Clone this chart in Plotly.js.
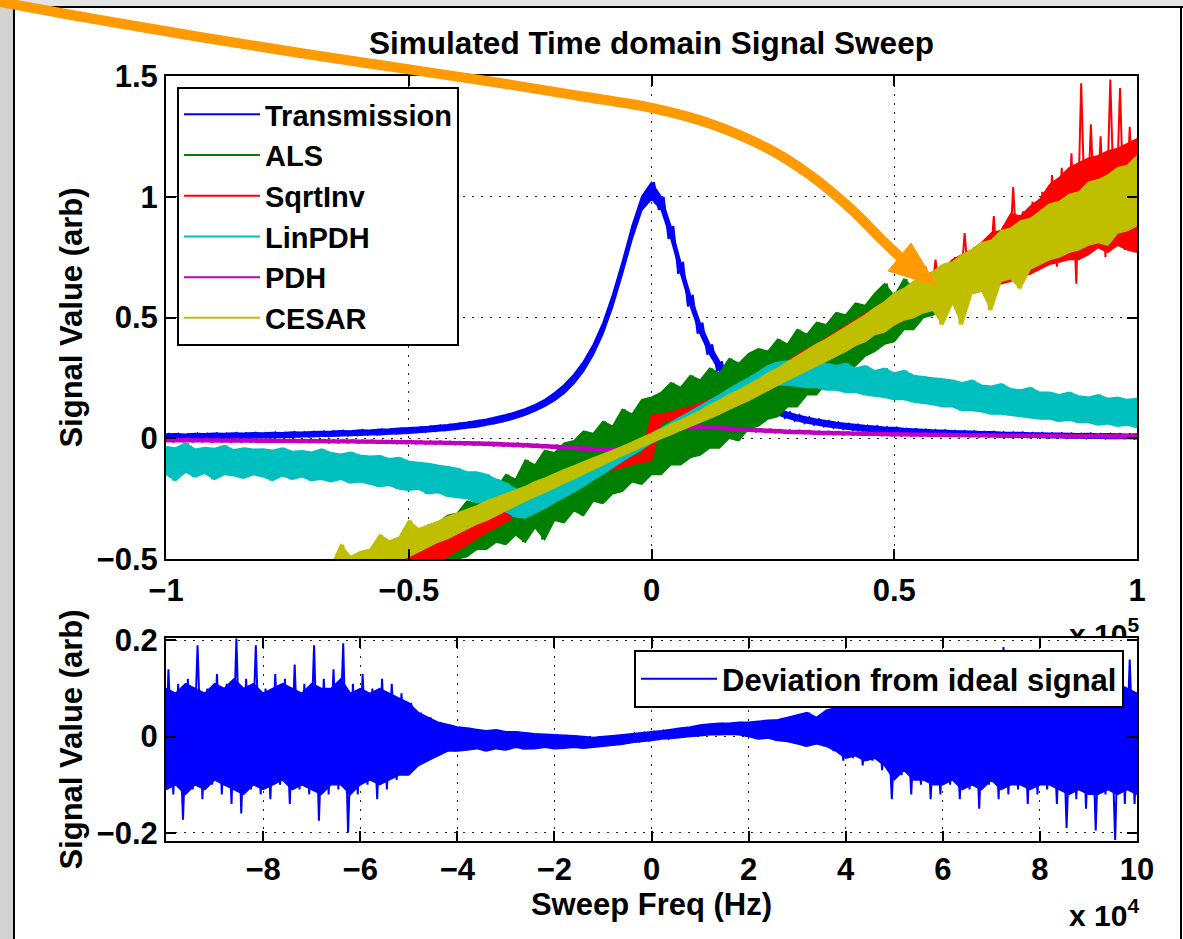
<!DOCTYPE html>
<html>
<head>
<meta charset="utf-8">
<script src="https://cdn.plot.ly/plotly-3.0.1.min.js"></script>
<style>
html,body{margin:0;padding:0;background:#fff;}
#chart{width:1183px;height:939px;}
</style>
</head>
<body>
<div id="chart"></div>
<script>
// Sweep frequency grid (kHz). Each series is given per 2 kHz bin as the dense band top / bottom
// (Hi / Lo) and, where isolated spikes stick out of the band, the per-bin extremes (PeakHi / PeakLo).
const sweepKHz = [-100,-98,-96,-94,-92,-90,-88,-86,-84,-82,
  -80,-78,-76,-74,-72,-70,-68,-66,-64,-62,
  -60,-58,-56,-54,-52,-50,-48,-46,-44,-42,
  -40,-38,-36,-34,-32,-30,-28,-26,-24,-22,
  -20,-18,-16,-14,-12,-10,-8,-6,-4,-2,
  0,
  2,4,6,8,10,12,14,16,18,20,
  22,24,26,28,30,32,34,36,38,40,
  42,44,46,48,50,52,54,56,58,60,
  62,64,66,68,70,72,74,76,78,80,
  82,84,86,88,90,92,94,96,98,100];

const seriesNames = ['Transmission','ALS','SqrtInv','LinPDH','PDH','CESAR'];
const seriesColors = ['#0000FF','#008000','#FF0000','#00BFBF','#BF00BF','#BFBF00'];
const deviationName = 'Deviation from ideal signal';

const transmissionHi = [0.018,0.019,0.017,0.020,0.019,0.021,0.020,0.022,0.021,0.023,
  0.022,0.024,0.023,0.026,0.025,0.027,0.028,0.029,0.031,0.030,
  0.034,0.033,0.037,0.038,0.041,0.043,0.046,0.049,0.053,0.056,
  0.061,0.066,0.073,0.079,0.088,0.097,0.109,0.122,0.139,0.160,
  0.188,0.221,0.264,0.318,0.388,0.478,0.595,0.732,0.880,1.002,
  1.060,
  1.000,0.878,0.730,0.594,0.479,0.389,0.318,0.266,0.222,0.189,
  0.161,0.139,0.121,0.108,0.096,0.087,0.079,0.072,0.066,0.061,
  0.057,0.053,0.050,0.046,0.044,0.040,0.038,0.036,0.034,0.033,
  0.031,0.030,0.029,0.027,0.027,0.025,0.024,0.024,0.022,0.022,
  0.021,0.021,0.020,0.019,0.020,0.018,0.019,0.018,0.017,0.018];
const transmissionLo = [-0.002,0.000,-0.001,-0.001,0.001,0.000,0.001,0.000,0.002,0.001,
  0.003,0.002,0.004,0.004,0.006,0.006,0.008,0.008,0.010,0.011,
  0.012,0.014,0.015,0.018,0.019,0.021,0.024,0.027,0.030,0.033,
  0.037,0.042,0.047,0.055,0.062,0.071,0.083,0.096,0.113,0.132,
  0.156,0.186,0.226,0.277,0.345,0.432,0.544,0.680,0.824,0.944,
  0.990,
  0.946,0.826,0.681,0.546,0.433,0.346,0.278,0.227,0.186,0.155,
  0.132,0.113,0.097,0.084,0.072,0.063,0.056,0.049,0.043,0.038,
  0.034,0.030,0.027,0.024,0.021,0.020,0.018,0.016,0.014,0.013,
  0.011,0.010,0.009,0.008,0.007,0.006,0.005,0.004,0.004,0.003,
  0.002,0.002,0.001,0.001,0.000,0.001,-0.001,0.000,-0.001,-0.002];

const alsHi = [-0.93,-0.91,-0.89,-0.87,-0.85,-0.83,-0.81,-0.79,-0.77,-0.75,
  -0.73,-0.71,-0.69,-0.67,-0.65,-0.63,-0.61,-0.58,-0.56,-0.54,
  -0.53,-0.49,-0.48,-0.44,-0.44,-0.40,-0.40,-0.36,-0.35,-0.32,
  -0.31,-0.26,-0.27,-0.20,-0.21,-0.15,-0.17,-0.09,-0.11,-0.05,
  -0.06,-0.02,-0.01,0.03,0.02,0.07,0.05,0.12,0.10,0.16,
  0.17,
  0.19,0.23,0.21,0.26,0.24,0.29,0.27,0.33,0.31,0.35,
  0.37,0.36,0.41,0.39,0.45,0.43,0.48,0.47,0.52,0.51,
  0.56,0.55,0.60,0.64,0.59,0.66,0.62,0.67,0.65,0.68,
  0.70,0.71,0.73,0.75,0.77,0.79,0.81,0.83,0.85,0.87,
  0.89,0.91,0.93,0.95,0.97,0.99,1.01,1.03,1.05,1.07];
const alsLo = [-1.07,-1.05,-1.03,-1.01,-0.99,-0.97,-0.95,-0.93,-0.91,-0.89,
  -0.87,-0.85,-0.83,-0.81,-0.79,-0.77,-0.75,-0.73,-0.71,-0.69,
  -0.68,-0.66,-0.65,-0.63,-0.62,-0.60,-0.59,-0.56,-0.55,-0.52,
  -0.50,-0.49,-0.46,-0.46,-0.43,-0.44,-0.40,-0.43,-0.37,-0.42,
  -0.34,-0.35,-0.30,-0.32,-0.26,-0.27,-0.23,-0.22,-0.18,-0.19,
  -0.15,
  -0.15,-0.11,-0.11,-0.08,-0.07,-0.04,-0.04,0.00,-0.01,0.04,
  0.05,0.08,0.09,0.13,0.13,0.18,0.18,0.23,0.24,0.28,
  0.30,0.34,0.36,0.39,0.40,0.45,0.45,0.50,0.51,0.54,
  0.57,0.59,0.61,0.64,0.65,0.68,0.70,0.73,0.75,0.77,
  0.79,0.81,0.83,0.85,0.87,0.89,0.91,0.93,0.95,0.97];

const sqrtInvHi = [-0.80,-0.79,-0.78,-0.77,-0.76,-0.75,-0.74,-0.72,-0.71,-0.70,
  -0.70,-0.68,-0.67,-0.65,-0.64,-0.63,-0.61,-0.60,-0.58,-0.57,
  -0.56,-0.54,-0.52,-0.51,-0.49,-0.47,-0.455,-0.435,-0.415,-0.395,
  -0.375,-0.355,-0.335,-0.315,-0.295,-0.275,-0.26,-0.24,-0.225,-0.205,
  -0.19,-0.172,-0.155,-0.138,-0.12,-0.105,-0.095,-0.085,-0.075,-0.065,
  0.095,
  0.10,0.108,0.12,0.13,0.145,0.16,0.178,0.195,0.212,0.232,
  0.255,0.278,0.30,0.322,0.345,0.37,0.39,0.415,0.44,0.465,
  0.49,0.515,0.54,0.565,0.59,0.62,0.64,0.67,0.69,0.70,
  0.74,0.76,0.78,0.81,0.85,0.86,0.93,0.92,0.96,0.99,
  1.05,1.08,1.12,1.14,1.16,1.17,1.19,1.20,1.22,1.24];
const sqrtInvPeakHi = [-0.80,-0.79,-0.78,-0.77,-0.76,-0.75,-0.74,-0.72,-0.71,-0.70,
  -0.70,-0.68,-0.67,-0.65,-0.64,-0.63,-0.61,-0.60,-0.58,-0.57,
  -0.56,-0.54,-0.52,-0.51,-0.49,-0.47,-0.455,-0.435,-0.415,-0.395,
  -0.375,-0.355,-0.335,-0.315,-0.295,-0.275,-0.26,-0.24,-0.225,-0.205,
  -0.19,-0.172,-0.155,-0.138,-0.12,-0.105,-0.095,-0.085,-0.075,-0.065,
  0.095,
  0.10,0.108,0.12,0.13,0.145,0.16,0.178,0.195,0.212,0.232,
  0.255,0.278,0.30,0.322,0.345,0.37,0.39,0.415,0.44,0.465,
  0.49,0.515,0.54,0.565,0.59,0.62,0.64,0.71,0.74,0.72,
  0.75,0.85,0.79,0.82,0.92,0.88,1.04,0.94,0.98,1.02,
  1.09,1.12,1.18,1.47,1.30,1.25,1.485,1.45,1.29,1.44];
const sqrtInvLo = [-1.22,-1.20,-1.18,-1.15,-1.12,-1.10,-1.07,-1.05,-1.02,-0.99,
  -0.98,-0.95,-0.92,-0.90,-0.86,-0.84,-0.81,-0.78,-0.76,-0.74,
  -0.72,-0.69,-0.66,-0.64,-0.62,-0.59,-0.565,-0.54,-0.515,-0.49,
  -0.465,-0.44,-0.415,-0.39,-0.37,-0.345,-0.322,-0.30,-0.278,-0.255,
  -0.232,-0.212,-0.195,-0.178,-0.16,-0.145,-0.13,-0.12,-0.108,-0.10,
  -0.09,
  0.065,0.075,0.085,0.095,0.105,0.12,0.138,0.155,0.172,0.19,
  0.205,0.225,0.24,0.26,0.275,0.295,0.315,0.335,0.355,0.375,
  0.395,0.415,0.435,0.455,0.47,0.49,0.51,0.52,0.54,0.56,
  0.57,0.58,0.60,0.61,0.63,0.64,0.65,0.67,0.68,0.70,
  0.72,0.73,0.74,0.74,0.76,0.79,0.77,0.80,0.78,0.77];
const sqrtInvPeakLo = [-1.22,-1.20,-1.18,-1.15,-1.12,-1.10,-1.07,-1.05,-1.02,-0.99,
  -0.98,-0.95,-0.92,-0.90,-0.86,-0.84,-0.81,-0.78,-0.76,-0.74,
  -0.72,-0.69,-0.66,-0.64,-0.62,-0.59,-0.565,-0.54,-0.515,-0.49,
  -0.465,-0.44,-0.415,-0.39,-0.37,-0.345,-0.322,-0.30,-0.278,-0.255,
  -0.232,-0.212,-0.195,-0.178,-0.16,-0.145,-0.13,-0.12,-0.108,-0.10,
  -0.09,
  0.065,0.075,0.085,0.095,0.105,0.12,0.138,0.155,0.172,0.19,
  0.205,0.225,0.24,0.26,0.275,0.295,0.315,0.335,0.355,0.375,
  0.395,0.415,0.435,0.455,0.47,0.49,0.51,0.52,0.54,0.56,
  0.57,0.58,0.60,0.61,0.63,0.64,0.65,0.67,0.68,0.70,
  0.72,0.71,0.74,0.64,0.76,0.79,0.75,0.80,0.78,0.77];

const linPdhHi = [-0.035,-0.040,-0.020,-0.045,-0.038,-0.042,-0.030,-0.048,-0.040,-0.046,
  -0.045,-0.050,-0.040,-0.055,-0.052,-0.058,-0.045,-0.060,-0.066,-0.058,
  -0.070,-0.075,-0.072,-0.085,-0.080,-0.095,-0.100,-0.105,-0.112,-0.118,
  -0.125,-0.140,-0.140,-0.150,-0.170,-0.185,-0.210,-0.220,-0.215,-0.195,
  -0.178,-0.160,-0.142,-0.122,-0.100,-0.082,-0.062,-0.042,-0.022,-0.002,
  0.020,
  0.042,0.066,0.088,0.110,0.134,0.157,0.180,0.205,0.228,0.250,
  0.275,0.300,0.315,0.320,0.325,0.320,0.315,0.310,0.300,0.310,
  0.290,0.300,0.280,0.290,0.270,0.280,0.260,0.255,0.250,0.245,
  0.240,0.230,0.240,0.220,0.215,0.225,0.205,0.200,0.210,0.190,
  0.190,0.180,0.190,0.175,0.170,0.180,0.165,0.170,0.160,0.165];
const linPdhLo = [-0.150,-0.175,-0.140,-0.160,-0.145,-0.170,-0.150,-0.155,-0.165,-0.150,
  -0.160,-0.175,-0.155,-0.170,-0.160,-0.175,-0.170,-0.180,-0.170,-0.185,
  -0.180,-0.190,-0.200,-0.195,-0.210,-0.215,-0.210,-0.230,-0.225,-0.240,
  -0.245,-0.250,-0.265,-0.270,-0.285,-0.305,-0.325,-0.330,-0.310,-0.290,
  -0.265,-0.245,-0.222,-0.198,-0.172,-0.148,-0.122,-0.095,-0.070,-0.046,
  -0.020,
  0.000,0.022,0.044,0.066,0.086,0.105,0.126,0.145,0.162,0.180,
  0.195,0.210,0.220,0.220,0.215,0.210,0.210,0.200,0.200,0.190,
  0.190,0.180,0.175,0.170,0.160,0.160,0.150,0.145,0.140,0.130,
  0.130,0.115,0.115,0.110,0.100,0.100,0.095,0.090,0.085,0.080,
  0.080,0.070,0.075,0.065,0.065,0.055,0.060,0.050,0.055,0.045];

const pdhHi = [-0.002,-0.003,-0.002,-0.003,-0.003,-0.003,-0.004,-0.003,-0.004,-0.004,
  -0.004,-0.005,-0.005,-0.005,-0.006,-0.006,-0.006,-0.007,-0.007,-0.007,
  -0.008,-0.008,-0.009,-0.009,-0.010,-0.010,-0.011,-0.012,-0.012,-0.013,
  -0.014,-0.015,-0.016,-0.017,-0.018,-0.020,-0.021,-0.023,-0.025,-0.027,
  -0.029,-0.031,-0.034,-0.036,-0.039,-0.040,-0.040,-0.037,-0.028,-0.013,
  0.007,
  0.027,0.042,0.050,0.053,0.053,0.051,0.049,0.046,0.044,0.041,
  0.039,0.037,0.035,0.033,0.032,0.031,0.029,0.028,0.027,0.026,
  0.025,0.024,0.024,0.023,0.022,0.022,0.021,0.021,0.020,0.020,
  0.019,0.019,0.018,0.018,0.018,0.017,0.017,0.017,0.016,0.016,
  0.016,0.016,0.015,0.015,0.015,0.015,0.015,0.014,0.014,0.014];
const pdhLo = [-0.014,-0.015,-0.014,-0.015,-0.015,-0.016,-0.015,-0.016,-0.016,-0.016,
  -0.017,-0.017,-0.017,-0.017,-0.018,-0.018,-0.018,-0.019,-0.019,-0.019,
  -0.020,-0.020,-0.021,-0.021,-0.022,-0.022,-0.023,-0.024,-0.024,-0.025,
  -0.026,-0.027,-0.028,-0.029,-0.031,-0.032,-0.034,-0.035,-0.037,-0.039,
  -0.041,-0.044,-0.046,-0.049,-0.051,-0.053,-0.053,-0.050,-0.041,-0.026,
  -0.007,
  0.014,0.029,0.037,0.041,0.041,0.039,0.037,0.034,0.032,0.029,
  0.027,0.025,0.023,0.021,0.020,0.019,0.017,0.016,0.015,0.014,
  0.013,0.012,0.012,0.011,0.010,0.010,0.009,0.009,0.008,0.008,
  0.007,0.007,0.006,0.006,0.006,0.005,0.005,0.005,0.004,0.004,
  0.004,0.004,0.003,0.004,0.003,0.003,0.003,0.002,0.003,0.002];

const cesarHi = [-0.82,-0.80,-0.79,-0.76,-0.75,-0.73,-0.72,-0.69,-0.68,-0.66,
  -0.65,-0.62,-0.61,-0.59,-0.57,-0.55,-0.54,-0.53,-0.44,-0.49,
  -0.47,-0.46,-0.40,-0.425,-0.41,-0.34,-0.375,-0.36,-0.345,-0.325,
  -0.31,-0.295,-0.28,-0.26,-0.245,-0.23,-0.215,-0.20,-0.18,-0.165,
  -0.148,-0.13,-0.115,-0.098,-0.082,-0.066,-0.05,-0.034,-0.016,0.002,
  0.02,
  0.038,0.058,0.075,0.094,0.113,0.138,0.158,0.182,0.20,0.222,
  0.245,0.27,0.29,0.315,0.34,0.365,0.39,0.41,0.435,0.46,
  0.485,0.51,0.54,0.565,0.60,0.62,0.65,0.665,0.69,0.72,
  0.73,0.76,0.78,0.81,0.82,0.86,0.87,0.90,0.91,0.94,
  0.97,0.98,1.01,1.02,1.06,1.07,1.09,1.12,1.13,1.17];
const cesarLo = [-0.94,-0.92,-0.90,-0.89,-0.87,-0.85,-0.83,-0.82,-0.80,-0.78,
  -0.76,-0.75,-0.73,-0.71,-0.69,-0.67,-0.66,-0.64,-0.62,-0.60,
  -0.58,-0.56,-0.545,-0.525,-0.505,-0.49,-0.47,-0.45,-0.43,-0.415,
  -0.395,-0.375,-0.355,-0.34,-0.32,-0.30,-0.28,-0.26,-0.242,-0.224,
  -0.205,-0.186,-0.168,-0.148,-0.13,-0.11,-0.09,-0.072,-0.054,-0.036,
  -0.018,
  0.0,0.015,0.033,0.05,0.066,0.083,0.10,0.12,0.138,0.156,
  0.178,0.198,0.22,0.24,0.26,0.28,0.30,0.32,0.34,0.36,
  0.385,0.40,0.43,0.44,0.47,0.49,0.50,0.52,0.53,0.47,
  0.56,0.47,0.60,0.61,0.53,0.65,0.66,0.62,0.70,0.72,
  0.74,0.75,0.77,0.78,0.80,0.81,0.80,0.85,0.86,0.88];

const deviationHi = [0.10,0.09,0.11,0.10,0.09,0.11,0.10,0.12,0.10,0.11,
  0.09,0.10,0.11,0.10,0.09,0.11,0.10,0.10,0.12,0.09,
  0.10,0.09,0.10,0.09,0.08,0.07,0.05,0.04,0.03,0.025,
  0.02,0.018,0.015,0.012,0.014,0.010,0.010,0.008,0.006,0.005,
  0.004,0.003,0.002,0.000,-0.002,0.000,0.002,0.004,0.006,0.008,
  0.010,
  0.012,0.015,0.018,0.020,0.024,0.026,0.028,0.028,0.030,0.030,
  0.032,0.034,0.035,0.040,0.045,0.050,0.040,0.055,0.060,0.060,
  0.065,0.060,0.070,0.065,0.080,0.080,0.085,0.090,0.085,0.090,
  0.090,0.100,0.090,0.095,0.100,0.100,0.090,0.100,0.095,0.100,
  0.090,0.100,0.095,0.110,0.100,0.100,0.095,0.110,0.100,0.090];
const deviationPeakHi = [0.14,0.11,0.12,0.19,0.10,0.13,0.11,0.204,0.12,0.19,
  0.10,0.13,0.12,0.15,0.11,0.19,0.12,0.14,0.194,0.11,
  0.13,0.10,0.12,0.11,0.09,0.07,0.05,0.04,0.03,0.025,
  0.02,0.018,0.015,0.012,0.014,0.010,0.010,0.008,0.006,0.005,
  0.004,0.003,0.002,0.000,-0.002,0.000,0.002,0.004,0.006,0.008,
  0.010,
  0.012,0.015,0.018,0.020,0.024,0.026,0.028,0.028,0.030,0.030,
  0.032,0.034,0.035,0.040,0.045,0.050,0.040,0.055,0.060,0.075,
  0.080,0.070,0.085,0.080,0.090,0.090,0.095,0.100,0.090,0.110,
  0.100,0.120,0.100,0.110,0.120,0.186,0.100,0.120,0.110,0.120,
  0.100,0.120,0.110,0.150,0.120,0.130,0.110,0.170,0.160,0.100];
const deviationLo = [-0.11,-0.10,-0.12,-0.10,-0.11,-0.09,-0.10,-0.11,-0.12,-0.10,
  -0.11,-0.10,-0.09,-0.11,-0.10,-0.11,-0.12,-0.10,-0.10,-0.12,
  -0.10,-0.09,-0.10,-0.09,-0.08,-0.08,-0.06,-0.05,-0.04,-0.03,
  -0.03,-0.028,-0.025,-0.03,-0.025,-0.028,-0.022,-0.026,-0.025,-0.022,
  -0.025,-0.024,-0.022,-0.024,-0.022,-0.020,-0.018,-0.016,-0.012,-0.010,
  -0.008,
  -0.005,-0.004,-0.002,0.000,0.002,0.004,0.004,0.005,0.004,0.000,
  -0.005,-0.003,-0.008,-0.010,-0.015,-0.020,-0.015,-0.020,-0.030,-0.045,
  -0.040,-0.050,-0.045,-0.060,-0.090,-0.070,-0.090,-0.090,-0.100,-0.100,
  -0.090,-0.110,-0.100,-0.110,-0.090,-0.110,-0.100,-0.100,-0.110,-0.100,
  -0.100,-0.110,-0.120,-0.110,-0.120,-0.120,-0.110,-0.120,-0.110,-0.120];
const deviationPeakLo = [-0.197,-0.12,-0.173,-0.11,-0.13,-0.10,-0.12,-0.14,-0.16,-0.11,
  -0.12,-0.13,-0.10,-0.14,-0.11,-0.12,-0.175,-0.12,-0.11,-0.20,
  -0.12,-0.10,-0.13,-0.11,-0.09,-0.08,-0.06,-0.05,-0.04,-0.03,
  -0.03,-0.028,-0.025,-0.03,-0.025,-0.028,-0.022,-0.026,-0.025,-0.022,
  -0.025,-0.024,-0.022,-0.024,-0.022,-0.020,-0.018,-0.016,-0.012,-0.010,
  -0.008,
  -0.005,-0.004,-0.002,0.000,0.002,0.004,0.004,0.005,0.004,0.000,
  -0.005,-0.003,-0.008,-0.010,-0.015,-0.020,-0.015,-0.020,-0.030,-0.050,
  -0.045,-0.060,-0.050,-0.070,-0.130,-0.080,-0.120,-0.100,-0.130,-0.120,
  -0.100,-0.130,-0.110,-0.150,-0.100,-0.130,-0.120,-0.110,-0.140,-0.120,
  -0.110,-0.140,-0.190,-0.130,-0.150,-0.195,-0.120,-0.215,-0.140,-0.140];

// Tick labels
const topXTickVals = [-100000,-50000,0,50000,100000];
const topXTickText = ['\u22121','\u22120.5','0','0.5','1'];
const topYTickVals = [-0.5,0,0.5,1,1.5];
const topYTickText = ['\u22120.5','0','0.5','1','1.5'];
const botXTickVals = [-80000,-60000,-40000,-20000,0,20000,40000,60000,80000,100000];
const botXTickText = ['\u22128','\u22126','\u22124','\u22122','0','2','4','6','8','10'];
const botYTickVals = [-0.2,0,0.2];
const botYTickText = ['\u22120.2','0','0.2'];

// ---- dense noisy signal rendered as a filled min/max band plus the per-bin extreme strokes ----
function zigzag(hi, lo) {
  const x = [], y = [];
  for (let i = 0; i < sweepKHz.length; i++) {
    const f = sweepKHz[i] * 1000;
    x.push(f - 500, f + 500);
    y.push(lo[i], hi[i]);
  }
  return {x, y};
}
function band(hi, lo) {
  const x = [], y = [];
  for (let i = 0; i < sweepKHz.length; i++) { x.push(sweepKHz[i] * 1000); y.push(hi[i]); }
  for (let i = sweepKHz.length - 1; i >= 0; i--) { x.push(sweepKHz[i] * 1000); y.push(lo[i]); }
  return {x, y};
}

const topSeries = [
  [transmissionHi, transmissionLo, transmissionHi, transmissionLo],
  [alsHi, alsLo, alsHi, alsLo],
  [sqrtInvHi, sqrtInvLo, sqrtInvPeakHi, sqrtInvPeakLo],
  [linPdhHi, linPdhLo, linPdhHi, linPdhLo],
  [pdhHi, pdhLo, pdhHi, pdhLo],
  [cesarHi, cesarLo, cesarHi, cesarLo]
];

const FONT = 'Liberation Sans, Arial, Helvetica, sans-serif';
const traces = [];
function addSeries(s, name, color, xa, ya, leg) {
  const b = band(s[0], s[1]);
  traces.push({
    type: 'scatter', mode: 'lines', x: b.x, y: b.y, fill: 'toself', fillcolor: color,
    name: name, xaxis: xa, yaxis: ya, showlegend: false, hoverinfo: 'skip',
    line: {color: color, width: 1.5, simplify: false}
  });
  const z = zigzag(s[2], s[3]);
  traces.push({
    type: 'scatter', mode: 'lines', x: z.x, y: z.y,
    name: name, xaxis: xa, yaxis: ya, legend: leg,
    line: {color: color, width: 2, simplify: false}
  });
}
topSeries.forEach((s, k) => addSeries(s, seriesNames[k], seriesColors[k], 'x', 'y', 'legend'));
addSeries([deviationHi, deviationLo, deviationPeakHi, deviationPeakLo], deviationName, '#0000FF', 'x2', 'y2', 'legend2');

// ---- pixel -> paper helpers for decorations ----
const PL = 166, PB = 841, PW = 971, PH = 765;
const px = v => (v - PL) / PW;
const py = v => (PB - v) / PH;
const P = p => px(p[0]).toFixed(5) + ',' + py(p[1]).toFixed(5);

// smooth (Catmull-Rom) arrow shaft
const arrowPts = [[-10,0],[0,2],[100,20],[200,37],[300,53],[400,68],[500,83],[580,96],[652,108],
  [711,124],[767,148],[810,175],[850,208],[880,238],[901,258]];
let arrowPath = 'M' + P(arrowPts[0]);
for (let i = 0; i < arrowPts.length - 1; i++) {
  const p0 = arrowPts[Math.max(i - 1, 0)], p1 = arrowPts[i], p2 = arrowPts[i + 1],
        p3 = arrowPts[Math.min(i + 2, arrowPts.length - 1)];
  const c1 = [p1[0] + (p2[0] - p0[0]) / 6, p1[1] + (p2[1] - p0[1]) / 6];
  const c2 = [p2[0] - (p3[0] - p1[0]) / 6, p2[1] - (p3[1] - p1[1]) / 6];
  arrowPath += ' C' + P(c1) + ' ' + P(c2) + ' ' + P(p2);
}
const headPts = [[937,286],[911,243],[888,271]];
const headPath = headPts.map((p, i) => (i ? 'L' : 'M') + P(p)).join(' ') + ' Z';

const tickFont = {family: FONT, size: 31, color: '#000', weight: 'bold'};
const titleFont = {family: FONT, size: 31, color: '#000', weight: 'bold'};
const axisCommon = {
  showline: true, linecolor: '#000', linewidth: 2, mirror: 'allticks',
  ticks: 'inside', ticklen: 10, tickwidth: 2, tickcolor: '#000',
  showgrid: true, gridcolor: '#222', gridwidth: 1, griddash: '2px,7px',
  zeroline: false, tickfont: tickFont, fixedrange: true, layer: 'above traces'
};

const layout = {
  width: 1183, height: 939,
  margin: {l: PL, r: 1183 - PL - PW, t: 76, b: 939 - PB},
  paper_bgcolor: '#fff', plot_bgcolor: '#fff',
  showlegend: true,
  title: {
    text: 'Simulated Time domain Signal Sweep',
    font: {family: FONT, size: 31.5, color: '#000', weight: 'bold'},
    x: 0.5, xref: 'paper', xanchor: 'center',
    y: 1 - 43/939, yref: 'container', yanchor: 'middle'
  },
  xaxis: Object.assign({}, axisCommon, {
    domain: [0, 1], anchor: 'y', range: [-100000, 100000],
    tickmode: 'array', tickvals: topXTickVals, ticktext: topXTickText,
    ticklabelstandoff: 3
  }),
  yaxis: Object.assign({}, axisCommon, {
    domain: [py(559), 1], anchor: 'x', range: [-0.5, 1.5],
    tickmode: 'array', tickvals: topYTickVals, ticktext: topYTickText,
    ticklabelstandoff: 0,
    title: {text: 'Signal Value (arb)', font: titleFont, standoff: 5}
  }),
  xaxis2: Object.assign({}, axisCommon, {
    domain: [0, 1], anchor: 'y2', range: [-100000, 100000],
    tickmode: 'array', tickvals: botXTickVals, ticktext: botXTickText,
    ticklabelstandoff: 0,
    title: {text: 'Sweep Freq (Hz)', font: titleFont, standoff: 0}
  }),
  yaxis2: Object.assign({}, axisCommon, {
    domain: [0, py(638)], anchor: 'x2', range: [-0.217, 0.205],
    tickmode: 'array', tickvals: botYTickVals, ticktext: botYTickText,
    ticklabelstandoff: 0,
    title: {text: 'Signal Value (arb)', font: titleFont, standoff: 5}
  }),
  legend: {
    x: px(177), y: py(87), xanchor: 'left', yanchor: 'top',
    bgcolor: '#fff', bordercolor: '#000', borderwidth: 2,
    font: {family: FONT, size: 29, color: '#000', weight: 'bold'},
    itemwidth: 76, traceorder: 'normal', tracegroupgap: 0
  },
  legend2: {
    x: px(634), y: py(650), xanchor: 'left', yanchor: 'top',
    bgcolor: '#fff', bordercolor: '#000', borderwidth: 2,
    font: {family: FONT, size: 31, color: '#000', weight: 'bold'},
    itemwidth: 76
  },
  shapes: [
    {type: 'rect', xref: 'paper', yref: 'paper', x0: px(0), x1: px(13), y0: py(939), y1: py(0),
      fillcolor: '#d2d2d2', line: {width: 0}, layer: 'above'},
    {type: 'rect', xref: 'paper', yref: 'paper', x0: px(0), x1: px(1183), y0: py(6), y1: py(0),
      fillcolor: '#e4e4e4', line: {width: 0}, layer: 'above'},
    {type: 'line', xref: 'paper', yref: 'paper', x0: px(14), x1: px(14), y0: py(939), y1: py(6),
      line: {color: '#000', width: 2}, layer: 'above'},
    {type: 'line', xref: 'paper', yref: 'paper', x0: px(13), x1: px(1183), y0: py(7), y1: py(7),
      line: {color: '#000', width: 2}, layer: 'above'},
    {type: 'line', xref: 'paper', yref: 'paper', x0: px(1181), x1: px(1181), y0: py(939), y1: py(6),
      line: {color: '#000', width: 2}, layer: 'above'},
    {type: 'path', xref: 'paper', yref: 'paper', path: arrowPath,
      line: {color: '#FF9A00', width: 10}, layer: 'above'},
    {type: 'path', xref: 'paper', yref: 'paper', path: headPath,
      fillcolor: '#FF9A00', line: {color: '#FF9A00', width: 1}, layer: 'above'}
  ],
  annotations: [
    {text: 'x 10<sup>5</sup>', xref: 'paper', yref: 'paper', x: px(1141), y: py(611),
      xanchor: 'right', yanchor: 'top', showarrow: false, valign: 'top', height: 24,
      font: {family: FONT, size: 30, color: '#000', weight: 'bold'}},
    {text: 'x 10<sup>4</sup>', xref: 'paper', yref: 'paper', x: px(1141), y: py(934),
      xanchor: 'right', yanchor: 'bottom', showarrow: false,
      font: {family: FONT, size: 30, color: '#000', weight: 'bold'}}
  ]
};

Plotly.newPlot('chart', traces, layout, {staticPlot: true, displayModeBar: false});
</script>
</body>
</html>
